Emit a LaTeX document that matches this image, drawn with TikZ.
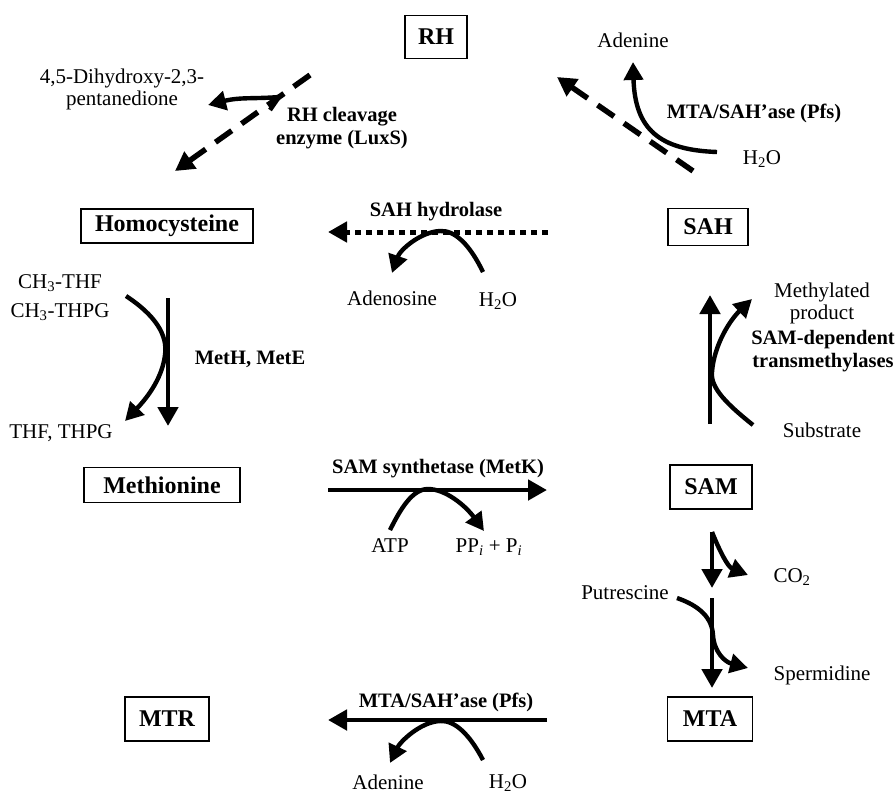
\documentclass[tikz,border=0pt]{standalone}
\usepackage{fontspec}
\setmainfont{Liberation Serif}
\usetikzlibrary{arrows.meta}
\newcommand{\boxfnt}{\fontsize{24}{28}\selectfont\bfseries}
\newcommand{\regfnt}{\fontsize{21}{22}\selectfont}
\newcommand{\enzfnt}{\fontsize{20.5}{23}\selectfont\bfseries}
\begin{document}
\begin{tikzpicture}[x=1pt,y=-1pt,
  box/.style={draw, line width=1.2pt, font=\boxfnt, inner sep=0pt},
  lbl/.style={font=\regfnt, inner sep=0pt},
  enz/.style={font=\enzfnt, inner sep=0pt, align=center},
  flow/.style={line width=4.8pt, -{Triangle[length=19pt,width=20pt]}},
  side/.style={line width=4.4pt, -{Triangle[length=18pt,width=19pt]}},
  dashedflow/.style={flow, line width=5.5pt, dash pattern=on 20pt off 12pt},
  dottedflow/.style={flow, line width=5pt, dash pattern=on 6pt off 5pt}]
\useasboundingbox (0,0) rectangle (896,796);
\fill[white] (0,0) rectangle (896,796);

% boxes
\node[box, minimum width=62pt, minimum height=43pt] (RH) at (436,37) {RH};
\node[box, minimum width=172pt, minimum height=34pt] (Hcy) at (167,226) {Homocysteine};
\node[box, minimum width=80pt, minimum height=37pt] (SAH) at (708,227) {SAH};
\node[box, minimum width=156pt, minimum height=35pt] (Met) at (162,485) {Methionine};
\node[box, minimum width=82pt, minimum height=44pt] (SAM) at (711,487) {SAM};
\node[box, minimum width=84pt, minimum height=44pt] (MTR) at (167,719) {MTR};
\node[box, minimum width=85pt, minimum height=44pt] (MTA) at (710,719) {MTA};

% labels
\node[lbl, align=center] (dhp) at (122,89) {4,5-Dihydroxy-2,3-\\[0pt]pentanedione};
\node[enz] (luxs) at (342,128) {RH cleavage\\enzyme (LuxS)};
\node[lbl, anchor=base] (adeT) at (633,47) {Adenine};
\node[enz, anchor=base] (pfsT) at (754,118) {MTA/SAH’ase (Pfs)};
\node[lbl, anchor=base] (h2oT) at (762,164) {H\textsubscript{2}O};
\node[enz, anchor=base] (sahh) at (436,216) {SAH hydrolase};
\node[lbl, anchor=base] (ado) at (392,305) {Adenosine};
\node[lbl, anchor=base] (h2oH) at (498,306) {H\textsubscript{2}O};
\node[lbl, anchor=base] (ch3a) at (60,288) {CH\textsubscript{3}-THF};
\node[lbl, anchor=base] (ch3b) at (60,317) {CH\textsubscript{3}-THPG};
\node[enz, anchor=base] (meth) at (250,364) {MetH, MetE};
\node[lbl, anchor=base] (thf) at (61,438) {THF, THPG};
\node[lbl, align=center] (mprod) at (822,303) {Methylated\\product};
\node[enz] (tmeth) at (823,351) {SAM-dependent\\transmethylases};
\node[lbl, anchor=base] (subs) at (822,437) {Substrate};
\node[enz, anchor=base] (metk) at (438,473) {SAM synthetase (MetK)};
\node[lbl, anchor=base] (atp) at (390,552) {ATP};
\node[lbl, anchor=base] (ppi) at (489,552) {PP\textsubscript{\textit{i}} + P\textsubscript{\textit{i}}};
\node[lbl, anchor=base] (co2) at (792,582) {CO\textsubscript{2}};
\node[lbl, anchor=base] (put) at (625,599) {Putrescine};
\node[lbl, anchor=base] (spd) at (822,680) {Spermidine};
\node[enz, anchor=base] (pfsB) at (446,707) {MTA/SAH’ase (Pfs)};
\node[lbl, anchor=base] (adeB) at (388,789) {Adenine};
\node[lbl, anchor=base] (h2oB) at (508,788) {H\textsubscript{2}O};

% coordinates for arrow ends
\coordinate (luxA) at (310,75);
\coordinate (luxB) at (175,171);
\coordinate (dhpS) at (270,110);
\coordinate (dhpK) at (279,97);
\coordinate (dhpE) at (208,105);
\coordinate (pfsA) at (693,171);
\coordinate (pfsZ) at (557,77);
\coordinate (h2oTs) at (717,152);
\coordinate (adeTe) at (633,62);
\coordinate (sahA) at (548,232);
\coordinate (sahB) at (328,232);
\coordinate (h2oHs) at (483,272);
\coordinate (sahP) at (440,231);
\coordinate (adoE) at (392,273);
\coordinate (metA) at (168,298);
\coordinate (metB) at (168,426);
\coordinate (ch3s) at (126,296);
\coordinate (metP) at (165,355);
\coordinate (thfE) at (125,421);
\coordinate (mkA) at (328,490);
\coordinate (mkB) at (547,490);
\coordinate (atpS) at (390,530);
\coordinate (mkP) at (428,489);
\coordinate (ppiE) at (484,531);
\coordinate (tmA) at (710,424);
\coordinate (tmB) at (710,295);
\coordinate (subS) at (753,425);
\coordinate (tmP) at (712,372);
\coordinate (mpE) at (752,299);
\coordinate (dcA) at (712,532);
\coordinate (dcB) at (712,588);
\coordinate (co2E) at (748,575);
\coordinate (spA) at (712,598);
\coordinate (spB) at (712,688);
\coordinate (putS) at (677,598);
\coordinate (spP) at (713,635);
\coordinate (spdE) at (748,668);
\coordinate (pfA) at (547,720);
\coordinate (pfB) at (328,720);
\coordinate (h2oBs) at (483,760);
\coordinate (pfP) at (440,721);
\coordinate (adeBe) at (390,763);

% RH cleavage
\draw[dashedflow] (luxA) -- (luxB);
\draw[side, line join=miter] (dhpS) -- (dhpK) .. controls (255,99) and (240,97) .. (dhpE);
% SAH -> RH
\draw[dashedflow] (pfsA) -- (pfsZ);
\draw[side] (h2oTs) .. controls (660,150) and (635,130) .. (adeTe);
% SAH -> Homocysteine
\draw[dottedflow] (sahA) -- (sahB);
\draw[side] (h2oHs) .. controls (470,245) and (455,230) .. (sahP) .. controls (420,232) and (400,250) .. (adoE);
% Homocysteine -> Methionine
\draw[flow] (metA) -- (metB);
\draw[side] (ch3s) .. controls (155,315) and (168,335) .. (metP) .. controls (162,380) and (145,400) .. (thfE);
% Methionine -> SAM
\draw[flow] (mkA) -- (mkB);
\draw[side] (atpS) .. controls (400,510) and (412,489) .. (mkP) .. controls (445,489) and (465,505) .. (ppiE);
% SAM -> SAH
\draw[flow] (tmA) -- (tmB);
\draw[side] (subS) .. controls (728,405) and (710,388) .. (tmP) .. controls (714,345) and (730,320) .. (mpE);
% SAM -> MTA
\draw[flow] (dcA) -- (dcB);
\draw[side] (dcA) .. controls (720,552) and (728,567) .. (co2E);
\draw[flow] (spA) -- (spB);
\draw[side] (putS) .. controls (700,606) and (712,618) .. (spP) .. controls (714,652) and (725,662) .. (spdE);
% MTA -> MTR
\draw[flow] (pfA) -- (pfB);
\draw[side] (h2oBs) .. controls (470,735) and (455,720) .. (pfP) .. controls (420,722) and (400,742) .. (adeBe);
\end{tikzpicture}
\end{document}
